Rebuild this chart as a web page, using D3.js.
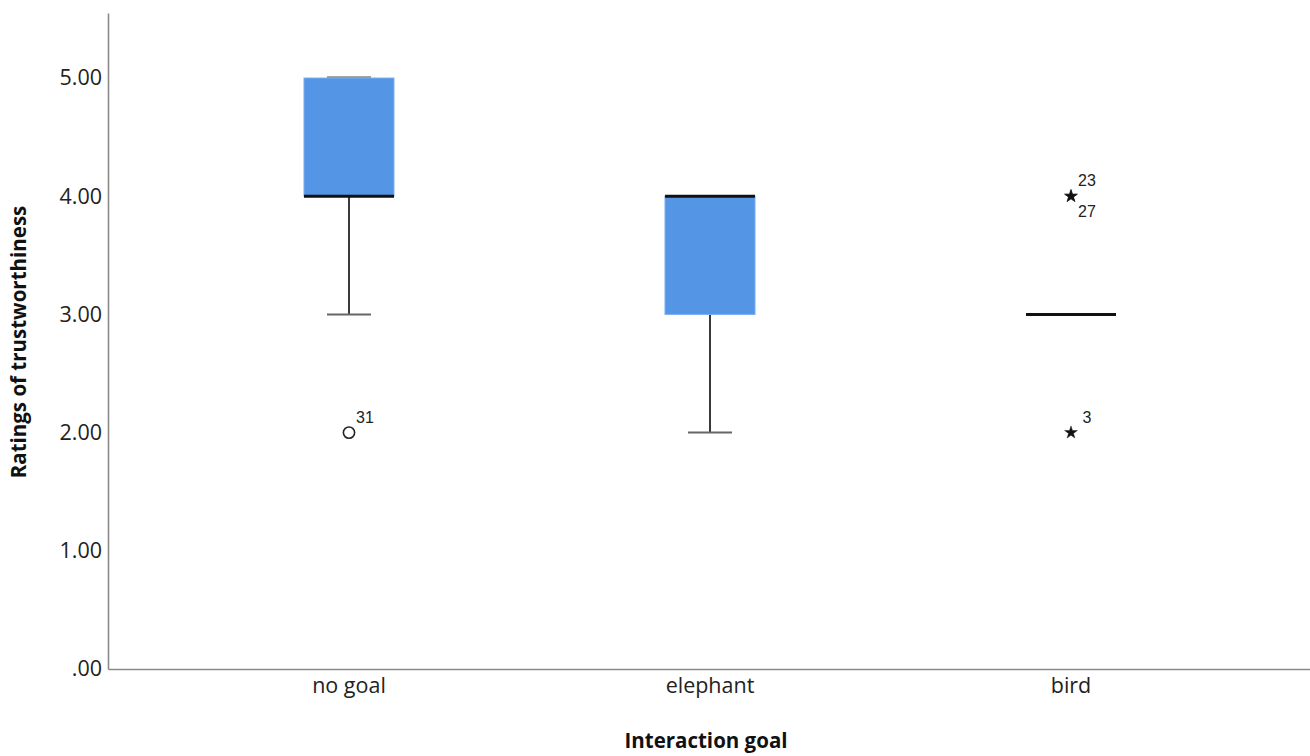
<!DOCTYPE html>
<html>
<head>
<meta charset="utf-8">
<script src="https://cdn.jsdelivr.net/npm/d3@7"></script>
<style>
  body { margin: 0; background: #fff; }
  svg text { font-family: "Open Sans", "Segoe UI", sans-serif; }
</style>
</head>
<body>
<div id="chart"></div>
<script>
// data
const categories = ["no goal", "elephant", "bird"];
const whiskerLow = [3, 2, 3];
const q1 = [4, 3, 3];
const median = [4, 4, 3];
const q3 = [5, 4, 3];
const whiskerHigh = [5, 4, 3];

const outlierCats = ["no goal", "bird", "bird", "bird"];
const outlierValues = [2, 4, 4, 2];
const outlierLabels = ["31", "23", "27", "3"];
const outlierKinds = ["circle", "star", "star", "star"];

const yTicks = [0, 1, 2, 3, 4, 5];

const svgWidth = 1310, svgHeight = 756;
const margin = {left: 108, top: 13, bottom: 87};
const plotBottom = svgHeight - margin.bottom;

const svg = d3.select('#chart')
    .append('svg')
    .attr('width', svgWidth)
    .attr('height', svgHeight);

// scales
let xScale = d3.scaleBand()
    .domain(categories)
    .range([margin.left, 1312])
    .paddingInner(0)
    .paddingOuter(0.1676);

let yScale = d3.scaleLinear()
    .domain([0, 5.55])
    .range([plotBottom, margin.top]);

const boxW = 90, capW = 44;
const cx = d => xScale(d) + xScale.bandwidth() / 2;

const boxes = categories.map((c, i) => ({
    cat: c, lo: whiskerLow[i], q1: q1[i], med: median[i], q3: q3[i], hi: whiskerHigh[i]
}));

// whiskers
let g = svg.append('g');
g.selectAll('.whisk')
    .data(boxes.filter(d => d.lo < d.q1 || d.hi > d.q3))
    .join('g')
    .each(function(d){
        let s = d3.select(this);
        if (d.lo < d.q1) {
            s.append('line')
                .attr('x1', cx(d.cat)).attr('x2', cx(d.cat))
                .attr('y1', yScale(d.q1)).attr('y2', yScale(d.lo))
                .attr('stroke', '#3a3a3a').attr('stroke-width', 2);
            s.append('line')
                .attr('x1', cx(d.cat) - capW/2).attr('x2', cx(d.cat) + capW/2)
                .attr('y1', yScale(d.lo)).attr('y2', yScale(d.lo))
                .attr('stroke', '#666').attr('stroke-width', 2);
        }
    });

// boxes
g.selectAll('.box')
    .data(boxes.filter(d => d.q3 > d.q1))
    .join('rect')
    .attr('x', d => cx(d.cat) - boxW/2)
    .attr('width', boxW)
    .attr('y', d => yScale(d.q3))
    .attr('height', d => yScale(d.q1) - yScale(d.q3))
    .attr('fill', '#5595e5')
    .attr('stroke', '#7aaeee')
    .attr('stroke-width', 1);

// upper caps (drawn over box edge)
g.selectAll('.ucap')
    .data(boxes.filter(d => d.hi === d.q3 && d.q3 > d.q1 && d.hi > d.med))
    .join('line')
    .attr('x1', d => cx(d.cat) - capW/2).attr('x2', d => cx(d.cat) + capW/2)
    .attr('y1', d => yScale(d.hi) - 1).attr('y2', d => yScale(d.hi) - 1)
    .attr('stroke', '#888').attr('stroke-width', 1.5);

// medians
g.selectAll('.med')
    .data(boxes)
    .join('line')
    .attr('x1', d => cx(d.cat) - boxW/2).attr('x2', d => cx(d.cat) + boxW/2)
    .attr('y1', d => yScale(d.med)).attr('y2', d => yScale(d.med))
    .attr('stroke', '#111').attr('stroke-width', 3);

// outliers
const outliers = outlierCats.map((c, i) => ({
    cat: c, value: outlierValues[i], label: outlierLabels[i], kind: outlierKinds[i]
}));

g.selectAll('.out')
    .data(outliers)
    .join('path')
    .attr('transform', d => `translate(${cx(d.cat)},${yScale(d.value)})`)
    .attr('d', d => d.kind === 'circle'
        ? d3.symbol(d3.symbolCircle, 100)()
        : d3.symbol(d3.symbolStar, 50)())
    .attr('fill', d => d.kind === 'circle' ? 'none' : '#111')
    .attr('stroke', '#222')
    .attr('stroke-width', d => d.kind === 'circle' ? 1.6 : 0.5);

// labels: second label at the same spot goes below the marker
let seen = {};
g.selectAll('.olab')
    .data(outliers)
    .join('text')
    .attr('x', d => cx(d.cat) + 16)
    .attr('y', d => {
        let key = d.cat + d.value;
        let below = seen[key];
        seen[key] = true;
        return yScale(d.value) + (below ? 21 : -10);
    })
    .attr('text-anchor', 'middle')
    .style('font-family', '"Liberation Sans", Arial, sans-serif')
    .style('font-size', '16px')
    .attr('fill', '#222')
    .text(d => d.label);

// axes
let xAxis = svg.append('g')
    .attr('transform', `translate(0,${plotBottom})`)
    .call(d3.axisBottom(xScale).tickSize(0).tickPadding(9));

let yAxis = svg.append('g')
    .attr('transform', `translate(${margin.left},0)`)
    .call(d3.axisLeft(yScale).tickValues(yTicks).tickSize(0).tickPadding(6)
        .tickFormat(d => d === 0 ? '.00' : d3.format('.2f')(d)));

[xAxis, yAxis].forEach(a => {
    a.select('.domain').attr('stroke', '#8a8a8a').attr('stroke-width', 1.6);
    a.selectAll('text')
        .style('font-family', '"Open Sans", sans-serif')
        .style('font-size', '21.5px')
        .attr('fill', '#222');
});

// titles
svg.append('text')
    .attr('x', 706)
    .attr('y', 748)
    .attr('text-anchor', 'middle')
    .style('font-weight', 'bold')
    .style('font-size', '20.5px')
    .attr('fill', '#111')
    .text('Interaction goal');

svg.append('text')
    .attr('transform', 'translate(26,342) rotate(-90)')
    .attr('text-anchor', 'middle')
    .style('font-weight', 'bold')
    .style('font-size', '20.5px')
    .attr('fill', '#111')
    .text('Ratings of trustworthiness');
</script>
</body>
</html>
